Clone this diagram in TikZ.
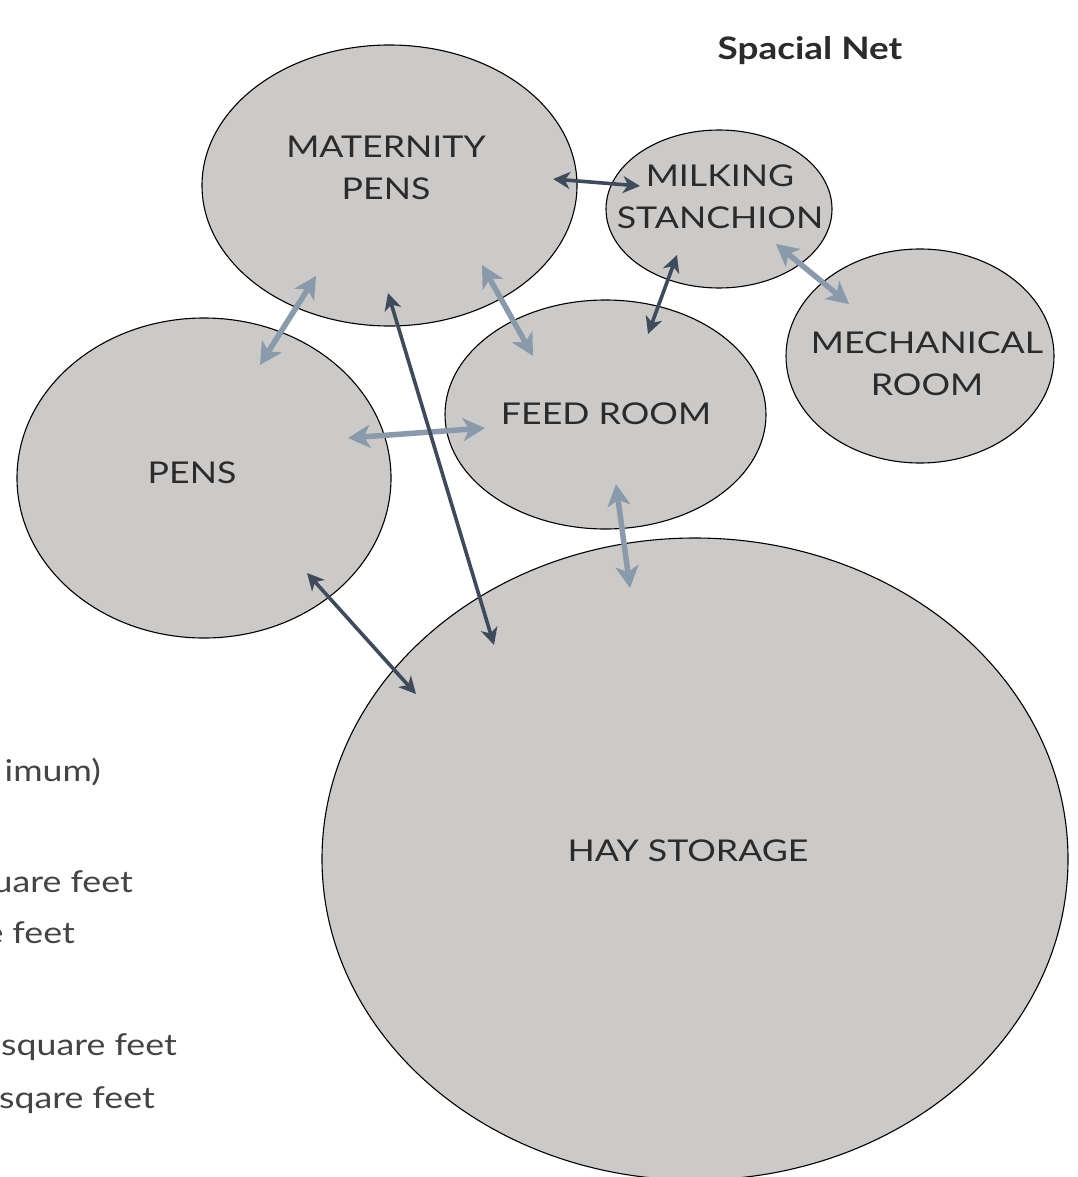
\documentclass[tikz,border=0pt]{standalone}
\usepackage{fontspec}
\setmainfont{Lato}[FakeStretch=1.19]
\usetikzlibrary{shapes.geometric,arrows.meta}
\definecolor{bubble}{HTML}{CCCAC9}
\definecolor{darkarrow}{HTML}{3F4B5B}
\definecolor{lightarrow}{HTML}{8A9AAB}
\definecolor{labeltext}{HTML}{2B2B2B}
\definecolor{sidetext}{HTML}{444444}
\tikzset{
  bubble/.style={ellipse, draw=black, line width=1.1pt, fill=bubble, inner sep=0pt},
  lbl/.style={font=\fontsize{30}{42}\selectfont, text=labeltext, align=center, inner sep=0pt},
  side/.style={font=\fontsize{30}{36}\selectfont, text=sidetext, anchor=base east, inner sep=0pt},
  darrow/.style={draw=darkarrow, line width=3.6pt, {Stealth[length=17pt,width=17pt,inset=5pt]}-{Stealth[length=17pt,width=17pt,inset=5pt]}},
  larrow/.style={draw=lightarrow, line width=5.5pt, {Stealth[length=22pt,width=23pt,inset=6pt]}-{Stealth[length=22pt,width=23pt,inset=6pt]}},
}
\begin{document}
\begin{tikzpicture}[x=1pt,y=-1pt]
\clip (0,0) rectangle (1078,1177);
\fill[white] (0,0) rectangle (1078,1177);
% bubbles
\node[bubble, minimum width=375pt, minimum height=281pt] (mat) at (389.5,185.5) {};
\node[bubble, minimum width=226pt, minimum height=158pt] (milk) at (719,209) {};
\node[bubble, minimum width=268pt, minimum height=214pt] (mech) at (920,356) {};
\node[bubble, minimum width=321pt, minimum height=229pt] (feed) at (605.5,414.5) {};
\node[bubble, minimum width=374pt, minimum height=320pt] (pens) at (204,478) {};
\node[bubble, minimum width=746pt, minimum height=642pt] (hay) at (695,859) {};
% labels
\node[lbl] (matl) at (386,168) {MATERNITY\\PENS};
\node[lbl] (milkl) at (720,197) {MILKING\\STANCHION};
\node[lbl] (mechl) at (927,364) {MECHANICAL\\ROOM};
\node[lbl] (feedl) at (606,414) {FEED ROOM};
\node[lbl] (pensl) at (192,473) {PENS};
\node[lbl] (hayl) at (688,851) {HAY STORAGE};
\node[lbl, font=\bfseries\fontsize{31}{36}\selectfont] (title) at (810,51) {Spacial Net};
% side text fragments
\node[side] (s1) at (101,781) {imum)};
\node[side] (s2) at (133,892) {uare feet};
\node[side] (s3) at (75,943) {e feet};
\node[side] (s4) at (177,1055) {square feet};
\node[side] (s5) at (155,1108) {sqare feet};
% arrow end points
\coordinate (a1) at (553,179); \coordinate (b1) at (640,186);
\coordinate (a2) at (677,255); \coordinate (b2) at (648,334);
\coordinate (a3) at (388,293); \coordinate (b3) at (494,645);
\coordinate (a4) at (307,573); \coordinate (b4) at (416,694);
\coordinate (a5) at (316,276); \coordinate (b5) at (260,365);
\coordinate (a6) at (482,265); \coordinate (b6) at (533,356);
\coordinate (a7) at (348,438); \coordinate (b7) at (485,428);
\coordinate (a8) at (776,244); \coordinate (b8) at (849,304);
\coordinate (a9) at (616,484); \coordinate (b9) at (630,588);
% light arrows
\draw[larrow] (a5) -- (b5);
\draw[larrow] (a6) -- (b6);
\draw[larrow] (a7) -- (b7);
\draw[larrow] (a8) -- (b8);
\draw[larrow] (a9) -- (b9);
% dark arrows
\draw[darrow] (a1) -- (b1);
\draw[darrow] (a2) -- (b2);
\draw[darrow] (a3) -- (b3);
\draw[darrow] (a4) -- (b4);
\end{tikzpicture}
\end{document}
